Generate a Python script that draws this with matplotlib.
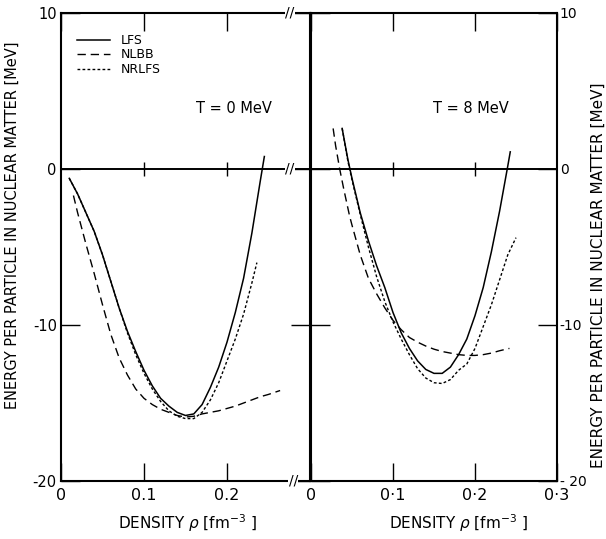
import matplotlib
matplotlib.use("Agg")
import matplotlib.pyplot as plt

# ---------------- data ----------------
# T = 0 MeV panel
rho_lfs0 = [0.010, 0.020, 0.030, 0.040, 0.050, 0.060, 0.070, 0.080, 0.090, 0.100,
            0.110, 0.120, 0.130, 0.140, 0.150, 0.160, 0.170, 0.180, 0.190, 0.200,
            0.210, 0.220, 0.230, 0.240, 0.245]
e_lfs0 = [-0.6, -1.6, -2.8, -4.0, -5.5, -7.2, -8.9, -10.4, -11.7, -12.9,
          -13.9, -14.7, -15.2, -15.6, -15.8, -15.7, -15.1, -14.0, -12.7, -11.1,
          -9.2, -7.0, -4.1, -0.8, 0.8]

rho_nlbb0 = [0.015, 0.020, 0.030, 0.040, 0.050, 0.060, 0.070, 0.080, 0.090, 0.100,
             0.110, 0.120, 0.130, 0.140, 0.150, 0.160, 0.170, 0.180, 0.190, 0.200,
             0.210, 0.220, 0.230, 0.240, 0.250, 0.264]
e_nlbb0 = [-1.7, -2.8, -4.8, -6.7, -8.7, -10.6, -12.1, -13.2, -14.1, -14.7,
           -15.1, -15.4, -15.6, -15.8, -15.9, -15.85, -15.7, -15.6, -15.5, -15.35,
           -15.2, -15.0, -14.8, -14.6, -14.45, -14.2]

rho_nrlfs0 = [0.010, 0.020, 0.030, 0.040, 0.050, 0.060, 0.070, 0.080, 0.090, 0.100,
              0.110, 0.120, 0.130, 0.140, 0.150, 0.160, 0.170, 0.180, 0.190, 0.200,
              0.210, 0.220, 0.230, 0.236]
e_nrlfs0 = [-0.6, -1.6, -2.8, -4.0, -5.5, -7.2, -8.9, -10.5, -11.9, -13.1,
            -14.1, -14.9, -15.5, -15.85, -16.0, -16.0, -15.6, -14.8, -13.7, -12.3,
            -10.9, -9.3, -7.3, -6.0]

# T = 8 MeV panel
rho_lfs8 = [0.038, 0.045, 0.050, 0.060, 0.070, 0.080, 0.090, 0.100, 0.110, 0.120,
            0.130, 0.140, 0.150, 0.160, 0.170, 0.180, 0.190, 0.200, 0.210, 0.220,
            0.230, 0.240, 0.243]
e_lfs8 = [2.6, 0.6, -0.6, -2.8, -4.6, -6.2, -7.6, -9.2, -10.5, -11.5,
          -12.3, -12.85, -13.1, -13.1, -12.7, -11.9, -10.9, -9.4, -7.6, -5.3,
          -2.7, 0.2, 1.1]

rho_nlbb8 = [0.027, 0.030, 0.035, 0.040, 0.047, 0.050, 0.060, 0.070, 0.080, 0.090,
             0.100, 0.110, 0.120, 0.130, 0.140, 0.150, 0.160, 0.170, 0.180, 0.190,
             0.200, 0.210, 0.220, 0.230, 0.242]
e_nlbb8 = [2.6, 1.5, 0.0, -1.3, -3.0, -3.6, -5.5, -7.0, -8.0, -8.9,
           -9.7, -10.3, -10.8, -11.1, -11.35, -11.55, -11.7, -11.8, -11.9, -11.95,
           -11.95, -11.9, -11.8, -11.65, -11.5]

rho_nrlfs8 = [0.038, 0.045, 0.050, 0.060, 0.070, 0.080, 0.090, 0.100, 0.110, 0.120,
              0.130, 0.140, 0.150, 0.160, 0.170, 0.180, 0.190, 0.200, 0.210, 0.220,
              0.230, 0.240, 0.250]
e_nrlfs8 = [2.6, 0.5, -0.7, -2.9, -5.0, -6.9, -8.5, -9.8, -10.9, -11.9,
            -12.8, -13.4, -13.7, -13.75, -13.5, -12.9, -12.5, -11.5, -10.1, -8.7,
            -7.1, -5.5, -4.4]

series_labels = ["LFS", "NLBB", "NRLFS"]
panel_titles = ["T = 0 MeV", "T = 8 MeV"]
yticks = [-20, -10, 0, 10]
yticklabels_left = ["-20", "-10", "0", "10"]
yticklabels_right = ["- 20", "-10", "0", "10"]
xticks_left = [0, 0.1, 0.2]
xticklabels_left = ["0", "0.1", "0.2"]
xticks_right = [0, 0.1, 0.2, 0.3]
xticklabels_right = ["0", "0\u00b71", "0\u00b72", "0\u00b73"]
inner_xticks = [0.1, 0.2]
xlabel = r"DENSITY $\rho$ [fm$^{-3}$ ]"
ylabel = "ENERGY PER PARTICLE IN NUCLEAR MATTER [MeV]"

# ---------------- figure ----------------
W, H = 606, 539
fig = plt.figure(figsize=(W / 100, H / 100), dpi=100)
plt.rcParams['font.family'] = ['DejaVu Sans']

def fx(px):
    return px / W

def fy(py):
    return 1 - py / H

ax1 = fig.add_axes([fx(61), fy(481), fx(310) - fx(61), fy(13) - fy(481)])
ax2 = fig.add_axes([fx(311), fy(481), fx(557) - fx(311), fy(13) - fy(481)])

styles = {
    "LFS": dict(color="black", lw=1.1, linestyle="-"),
    "NLBB": dict(color="black", lw=1.0, linestyle=(0, (6, 3.5))),
    "NRLFS": dict(color="black", lw=1.0, linestyle=(0, (2, 1.6))),
}

data0 = [(rho_lfs0, e_lfs0), (rho_nlbb0, e_nlbb0), (rho_nrlfs0, e_nrlfs0)]
data8 = [(rho_lfs8, e_lfs8), (rho_nlbb8, e_nlbb8), (rho_nrlfs8, e_nrlfs8)]

for ax, data in ((ax1, data0), (ax2, data8)):
    for (x, y), lab in zip(data, series_labels):
        ax.plot(x, y, label=lab, **styles[lab])
    ax.set_xlim(0, 0.3)
    ax.set_ylim(-20, 10)
    ax.axhline(0, color="black", lw=1.4, zorder=1)
    ax.vlines(inner_xticks, -0.45, 0.45, color="black", lw=1.0)
    for s in ax.spines.values():
        s.set_linewidth(1.5)
    ax.set_yticks(yticks)
    ax.tick_params(axis="both", direction="in", top=True, right=True,
                   width=1.0, colors="black")
    ax.tick_params(axis="x", length=13, labelsize=11.5, pad=5)
    ax.tick_params(axis="y", length=14, labelsize=10.5, pad=3)

# left panel
ax1.set_xticks(xticks_left)
ax1.set_xticklabels(xticklabels_left)
ax1.set_yticklabels(yticklabels_left)
ax1.text(0.208, 3.9, panel_titles[0], fontsize=10.5, ha="center", va="center")
leg = ax1.legend(loc="upper left", bbox_to_anchor=((77 - 61) / 249, (481 - 34) / 468),
                 frameon=False, fontsize=9, handlelength=2.6, handletextpad=0.9,
                 labelspacing=0.12, borderpad=0, borderaxespad=0)

# right panel
ax2.set_xticks(xticks_right)
ax2.set_xticklabels(xticklabels_right)
ax2.yaxis.tick_right()
ax2.tick_params(axis="y", left=True, right=True, labelleft=False, labelright=True,
                labelsize=10, pad=2)
ax2.set_yticklabels(yticklabels_right)
ax2.text(0.195, 3.9, panel_titles[1], fontsize=10.5, ha="center", va="center")

# axis break marks "//"
for xx, yy in ((0.276, 10), (0.276, 0), (0.28, -20)):
    ax1.text(xx, yy, "//", fontsize=10, ha="center", va="center", clip_on=False,
             bbox=dict(facecolor="white", edgecolor="none", pad=0.3), zorder=5)

# axis labels
fig.text(fx(188), fy(523), xlabel, fontsize=11, ha="center", va="center")
fig.text(fx(459), fy(523), xlabel, fontsize=11, ha="center", va="center")
fig.text(fx(12), fy(225), ylabel, fontsize=10.5, rotation=90, ha="center", va="center")
fig.text(fx(598), fy(275), ylabel, fontsize=11, rotation=90, ha="center", va="center")

fig.savefig("out.png", dpi=100)
